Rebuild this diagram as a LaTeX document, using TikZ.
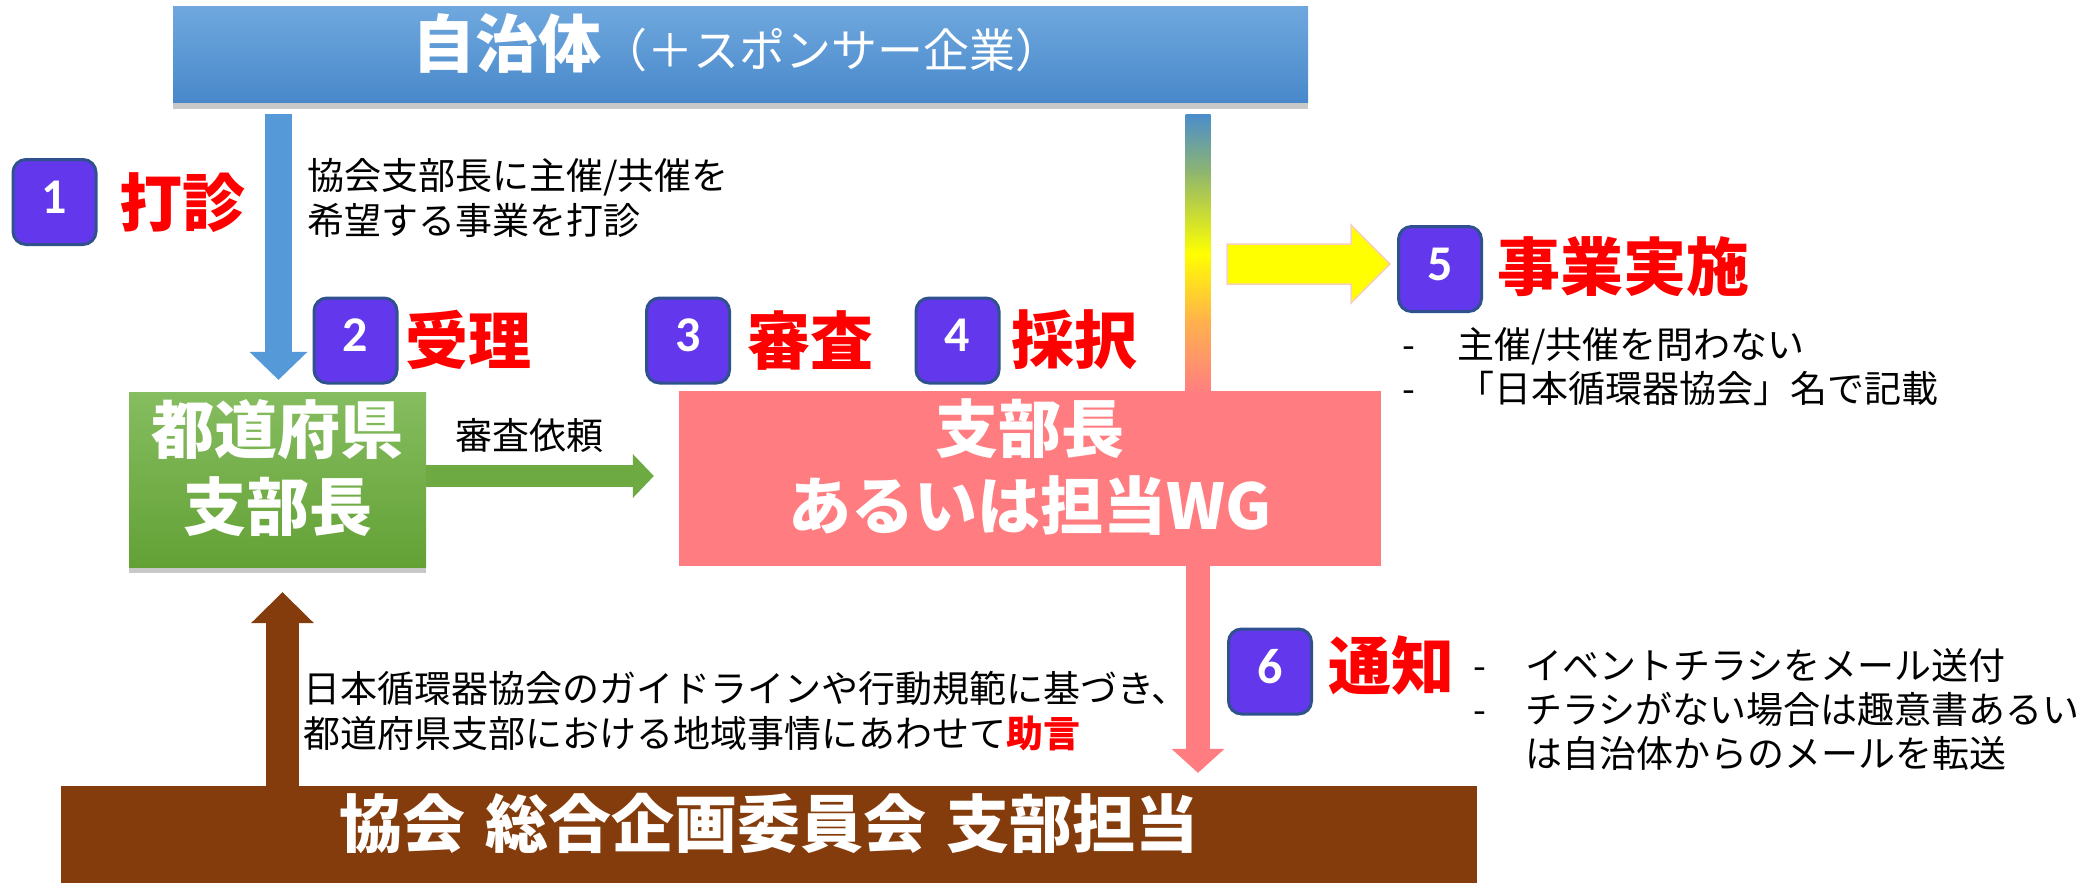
\documentclass[tikz,border=0pt]{standalone}
\usepackage{fontspec}
\setmainfont{Noto Sans CJK JP}
\newfontfamily\numfont{Carlito}
\usetikzlibrary{arrows.meta,shadows,calc}
\definecolor{blueTop}{HTML}{6FA8DE}
\definecolor{blueBot}{HTML}{4888CA}
\definecolor{blueArrow}{HTML}{5599D8}
\definecolor{greenTop}{HTML}{86BD60}
\definecolor{greenBot}{HTML}{63A135}
\definecolor{greenArrow}{HTML}{6DAB42}
\definecolor{pinkBox}{HTML}{FF7C80}
\definecolor{brownBox}{HTML}{843C0C}
\definecolor{badgeFill}{HTML}{6337EB}
\definecolor{badgeBorder}{HTML}{2F528F}
\definecolor{redLab}{HTML}{FF0000}
\definecolor{barA}{HTML}{4A8DCC}
\definecolor{barB}{HTML}{93B86A}
\definecolor{barC}{HTML}{FFFF00}
\definecolor{barD}{HTML}{FFB24C}
\definecolor{barE}{HTML}{FF7F80}
\definecolor{yellowEdge}{HTML}{F8D0B8}
\begin{document}
\begin{tikzpicture}[x=1pt,y=-1pt,
  badge/.style={draw=badgeBorder, line width=3pt, fill=badgeFill, rounded corners=13pt,
    minimum width=83pt, minimum height=85pt, inner sep=0pt, text=white,
    font=\numfont\bfseries\fontsize{50}{50}\selectfont, text depth=10pt},
  redlab/.style={text=redLab, font=\bfseries\fontsize{63}{63}\selectfont, inner sep=0pt, anchor=west},
  bigwhite/.style={text=white, font=\bfseries\fontsize{63}{77}\selectfont, align=center, inner sep=0pt},
  bodytxt/.style={font=\fontsize{37}{45}\selectfont, align=left, inner sep=0pt, anchor=west},
  boxshadow/.style={drop shadow={shadow xshift=0pt, shadow yshift=-6pt, opacity=0.3, fill=black!70}},
  blockarr/.style={-{Triangle[width=#1, line width=0pt]}},
]
\useasboundingbox (0,0) rectangle (2087,887);
\fill[white] (0,0) rectangle (2087,887);

% main boxes
\node[minimum width=1135pt, minimum height=96pt, inner sep=0pt, top color=blueTop, bottom color=blueBot, boxshadow] (jichitai) at (740.5,54.5) {};
\node[text=white, inner sep=0pt] (jichitaiT) at ([xshift=-4pt,yshift=11pt]jichitai.center)
  {{\bfseries\fontsize{63}{63}\selectfont 自治体}{\fontsize{46}{46}\selectfont （＋スポンサー企業）}};

\node[minimum width=297pt, minimum height=175pt, inner sep=0pt, top color=greenTop, bottom color=greenBot, boxshadow] (todo) at (277.5,479.5) {};
\node[bigwhite] (todoT) at ([yshift=11pt]todo.center) {都道府県\\支部長};

\node[minimum width=702pt, minimum height=175pt, inner sep=0pt, fill=pinkBox] (shibu) at (1030,478.5) {};
\node[bigwhite] (shibuT) at ([yshift=11pt]shibu.center) {支部長\\あるいは担当WG};

\node[minimum width=1416pt, minimum height=97pt, inner sep=0pt, fill=brownBox] (kyokai) at (769,834.5) {};
\node[text=white, inner sep=0pt, font=\bfseries\fontsize{63}{63}\selectfont] (kyokaiT) at ([yshift=11pt]kyokai.center)
  {協会\hspace{20pt}総合企画委員会\hspace{20pt}支部担当};

% badges
\node[badge] (b1) at (54.5,202) {1};
\node[badge] (b2) at (355.5,340.5) {2};
\node[badge] (b3) at (688,340.5) {3};
\node[badge] (b4) at (957.5,340.5) {4};
\node[badge] (b5) at (1440,269) {5};
\node[badge] (b6) at (1270,671.5) {6};

% red labels
\node[redlab] (l1) at (119,203) {打診};
\node[redlab] (l2) at (405,340) {受理};
\node[redlab] (l3) at (747,340) {審査};
\node[redlab] (l4) at (1011,340) {採択};
\node[redlab] (l5) at (1497,267) {事業実施};
\node[redlab] (l6) at (1328,665) {通知};

% texts
\node[bodytxt] (t1) at (307,197.5) {協会支部長に主催/共催を\\希望する事業を打診};
\node[inner sep=0pt, font=\fontsize{37}{45}\selectfont] (irai) at (529,436) {審査依頼};
\node[bodytxt] (advice) at (303,711.5) {日本循環器協会のガイドラインや行動規範に基づき、\\都道府県支部における地域事情にあわせて{\color{redLab}\bfseries 助言}};
\node[bodytxt, font=\fontsize{37}{44}\selectfont] (list5) at (1402,366.75)
  {\makebox[55pt][l]{-}主催/共催を問わない\\\makebox[55pt][l]{-}「日本循環器協会」名で記載};
\node[bodytxt, font=\fontsize{37}{44}\selectfont] (list6) at (1473,709)
  {\makebox[52pt][l]{-}イベントチラシをメール送付\\\makebox[52pt][l]{-}チラシがない場合は趣意書あるい\\\makebox[52pt][l]{}は自治体からのメールを転送};

% helper coordinates
\coordinate (blX) at (278.5,0);
\coordinate (barX) at (1198,0);
\coordinate (brX) at (282.5,0);
\coordinate (gY) at (0,476);
\coordinate (yY) at (0,264);
\coordinate (blStart) at ([yshift=-11pt]jichitai.south);
\coordinate (blTip) at ([yshift=12pt]todo.north);
\coordinate (barStart) at ([yshift=-12pt]jichitai.south);
\coordinate (gTip) at ([xshift=-25pt]shibu.west);
\coordinate (pkTip) at ([yshift=13pt]kyokai.north);
\coordinate (brTip) at ([yshift=-25pt]todo.south);
\coordinate (yTip) at ([xshift=-7pt]b5.west);

% blue arrow
\draw[blueArrow, line width=27pt, blockarr=58pt, -{Triangle[width=58pt,length=28pt,line width=0pt]}]
  (blStart -| blX) -- (blTip -| blX);

% gradient bar
\shade[top color=barA, bottom color=barB] (1185.5,114) rectangle (1210.5,176);
\shade[top color=barB, bottom color=barC] (1185.5,175) rectangle (1210.5,254);
\shade[top color=barC, bottom color=barD] (1185.5,253) rectangle (1210.5,321);
\shade[top color=barD, bottom color=barE] (1185.5,320) rectangle (1210.5,391);

% yellow arrow
\draw[fill=barC, draw=yellowEdge, line width=1.5pt, line join=miter]
  (yTip |- yY) -- ++(-39,-39) -- ++(0,19) -- ++(-124,0) -- ++(0,40) -- ++(124,0) -- ++(0,19) -- cycle;

% green arrow
\draw[greenArrow, line width=22pt, -{Triangle[width=44pt,length=21pt,line width=0pt]}]
  (todo.east |- gY) -- (gTip |- gY);

% pink arrow
\draw[pinkBox, line width=24pt, -{Triangle[width=53pt,length=24pt,line width=0pt]}]
  (shibu.south -| barX) -- (pkTip -| barX);

% brown arrow
\draw[brownBox, line width=33pt, -{Triangle[width=63pt,length=31pt,line width=0pt]}]
  (kyokai.north -| brX) -- (brTip -| brX);
\end{tikzpicture}
\end{document}
